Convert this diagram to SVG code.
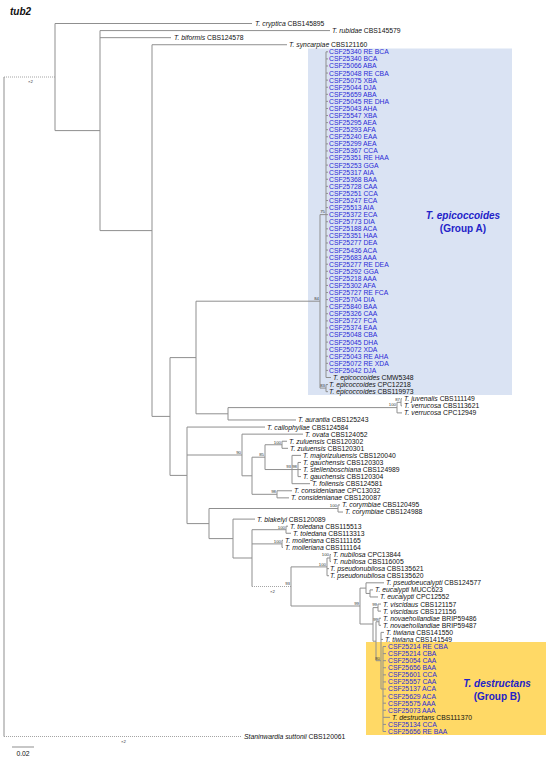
<svg xmlns="http://www.w3.org/2000/svg" width="550" height="762" viewBox="0 0 550 762">
<style>
text{font-family:"Liberation Sans",Arial,sans-serif}
.l{font-size:6.8px;fill:#111}
.b{font-size:6.8px;fill:#2a2ad6}
.i{font-style:italic}
.bs{font-size:4.3px;fill:#333;text-anchor:end}
.x2{font-size:4.3px;fill:#333}
.e{fill:none;stroke:#8f8f8f;stroke-width:1}
.d{fill:none;stroke:#9a9a9a;stroke-width:0.9;stroke-dasharray:1 1}
.g{font-size:10px;font-weight:bold;fill:#2222c8;text-anchor:middle}
</style>
<rect id="boxA" x="308" y="48.5" width="204" height="346.5" fill="#DAE3F3"/>
<rect id="boxB" x="366" y="642" width="180" height="93" fill="#FFD966"/>
<text x="10" y="15" style="font-size:10px;font-weight:bold;font-style:italic;fill:#111">tub2</text>
<g id="connectors">
<path class="d" d="M4,77H55M4,736.5H241M252,586.5H291"/>
<path class="e" d="M4,77V736.5
M55,23.5V130.6M55,23.5H252M55,130.6H100
M100,30.58V230.6M100,30.58H330M100,37.66H171M100,230.6H152
M152,44.74V416.4M152,44.74H287M152,416.4H170
M170,357.6V475.4M170,357.6H196M170,475.4H187
M196,301.2V413.8M196,301.2H320M196,413.8H228
M320,214.6V388.1M320,214.6H326M320,388.1H326
M326,51.82V377.5M326,377.5H331
M326,51.82H328M326,58.9H328M326,65.98H328M326,73.06H328M326,80.14H328M326,87.22H328M326,94.3H328M326,101.38H328M326,108.46H328M326,115.54H328M326,122.62H328M326,129.7H328M326,136.78H328M326,143.86H328M326,150.94H328M326,158.02H328M326,165.1H328M326,172.18H328M326,179.26H328M326,186.34H328M326,193.42H328M326,200.5H328M326,207.58H328M326,214.66H328M326,221.74H328M326,228.82H328M326,235.9H328M326,242.98H328M326,250.06H328M326,257.14H328M326,264.22H328M326,271.3H328M326,278.38H328M326,285.46H328M326,292.54H328M326,299.62H328M326,306.7H328M326,313.78H328M326,320.86H328M326,327.94H328M326,335.02H328M326,342.1H328M326,349.18H328M326,356.26H328M326,363.34H328M326,370.42H328
M326,384.58V391.66M326,384.58H328M326,391.66H328
M228,407.6V419.98M228,407.6H397M228,419.98H296
M397,402.3V412.9M397,402.3H401M397,412.9H402
M401,398.74V405.82M401,398.74H402M401,405.82H402
M187,427.06V523.6M187,427.06H265M187,455H242M187,523.6H209
M242,434.14V475.8M242,434.14H303M242,475.8H252
M252,457.2V494.3M252,457.2H265M252,494.3H277
M265,444.76V469.54M265,444.76H282M265,469.54H292
M282,441.22V448.3M282,441.22H287M282,448.3H288
M292,455.38V483.7M292,455.38H301M292,469.54H298M292,483.7H310
M298,462.46V476.62M298,462.46H301M298,469.54H301M298,476.62H301
M277,490.78V497.86M277,490.78H292M277,497.86H289
M209,508.5V538.6M209,508.5H338M209,538.6H233
M338,504.94V512.02M338,504.94H340M338,512.02H343
M233,519.1V558M233,519.1H255M233,558H252
M252,529.7V586.5M252,529.7H286M252,543.9H282
M286,526.18V533.26M286,526.18H288M286,533.26H291
M282,540.34V547.42M282,540.34H283M282,547.42H283
M291,566.9V606M291,566.9H327M291,606H360
M327,558V575.74M327,558H330M327,568.66H329M327,575.74H329
M330,554.5V561.58M330,554.5H331M330,561.58H331
M360,588.1V624M360,588.1H366M360,624H373
M366,582.82V593.44M366,582.82H384M366,593.44H370
M370,589.9V596.98M370,589.9H373M370,596.98H378
M373,607.6V641.2M373,607.6H378M373,641.2H376
M378,604.06V611.14M378,604.06H381M378,611.14H381
M376,621.76V660.7M376,621.76H379M376,660.7H381
M379,618.22V625.3M379,618.22H381M379,625.3H381
M381,632.38V689M381,632.38H384M381,639.46H383M381,689H383
M383,646.54V731.5M383,717.34H390
M383,646.54H386M383,653.62H386M383,660.7H386M383,667.78H386M383,674.86H386M383,681.94H386M383,689.02H386M383,696.1H386M383,703.18H386M383,710.26H386M383,724.42H386M383,731.5H386
M12,747H34"/>
</g>
<g id="support">
<text class="x2" x="28" y="82.5">×2</text>
<text class="x2" x="270" y="592.5">×2</text>
<text class="x2" x="121" y="742.5">×2</text>
<text class="bs" x="319" y="300">84</text>
<text class="bs" x="325" y="213.4">75</text>
<text class="bs" x="325" y="387">83</text>
<text class="bs" x="396" y="406.4">100</text>
<text class="bs" x="400" y="401">87</text>
<text class="bs" x="241" y="453.8">90</text>
<text class="bs" x="264" y="456">85</text>
<text class="bs" x="276" y="493.1">98</text>
<text class="bs" x="281" y="443.6">100</text>
<text class="bs" x="291" y="468.3">93</text>
<text class="bs" x="297" y="468.3">98</text>
<text class="bs" x="337" y="507.3">100</text>
<text class="bs" x="285" y="528.5">100</text>
<text class="bs" x="281" y="542.7">100</text>
<text class="bs" x="290" y="585.3">93</text>
<text class="bs" x="326" y="565.7">100</text>
<text class="bs" x="329" y="555.6">100</text>
<text class="bs" x="359" y="604.8">99</text>
<text class="bs" x="377" y="606.4">99</text>
<text class="bs" x="378" y="620.6">99</text>
<text class="bs" x="380" y="659.5">80</text>
</g>
<g id="outgroups">
<g id="cryptica"><text class="l" x="255" y="25.9"><tspan class="i">T. cryptica</tspan> CBS145895</text></g>
<g id="rubidae"><text class="l" x="332" y="33"><tspan class="i">T. rubidae</tspan> CBS145579</text></g>
<g id="biformis"><text class="l" x="174" y="40.1"><tspan class="i">T. biformis</tspan> CBS124578</text></g>
<g id="syncarpiae"><text class="l" x="289" y="47.1"><tspan class="i">T. syncarpiae</tspan> CBS121160</text></g>
</g>
<g id="groupA">
<g id="a1"><text class="b" x="329" y="54.2">CSF25340 RE BCA</text></g>
<g id="a2"><text class="b" x="329" y="61.3">CSF25340 BCA</text></g>
<g id="a3"><text class="b" x="329" y="68.4">CSF25066 ABA</text></g>
<g id="a4"><text class="b" x="329" y="75.5">CSF25048 RE CBA</text></g>
<g id="a5"><text class="b" x="329" y="82.5">CSF25075 XBA</text></g>
<g id="a6"><text class="b" x="329" y="89.6">CSF25044 DJA</text></g>
<g id="a7"><text class="b" x="329" y="96.7">CSF25659 ABA</text></g>
<g id="a8"><text class="b" x="329" y="103.8">CSF25045 RE DHA</text></g>
<g id="a9"><text class="b" x="329" y="110.9">CSF25043 AHA</text></g>
<g id="a10"><text class="b" x="329" y="117.9">CSF25547 XBA</text></g>
<g id="a11"><text class="b" x="329" y="125">CSF25295 AEA</text></g>
<g id="a12"><text class="b" x="329" y="132.1">CSF25293 AFA</text></g>
<g id="a13"><text class="b" x="329" y="139.2">CSF25240 EAA</text></g>
<g id="a14"><text class="b" x="329" y="146.3">CSF25299 AEA</text></g>
<g id="a15"><text class="b" x="329" y="153.3">CSF25367 CCA</text></g>
<g id="a16"><text class="b" x="329" y="160.4">CSF25351 RE HAA</text></g>
<g id="a17"><text class="b" x="329" y="167.5">CSF25253 GGA</text></g>
<g id="a18"><text class="b" x="329" y="174.6">CSF25317 AIA</text></g>
<g id="a19"><text class="b" x="329" y="181.7">CSF25368 BAA</text></g>
<g id="a20"><text class="b" x="329" y="188.7">CSF25728 CAA</text></g>
<g id="a21"><text class="b" x="329" y="195.8">CSF25251 CCA</text></g>
<g id="a22"><text class="b" x="329" y="202.9">CSF25247 ECA</text></g>
<g id="a23"><text class="b" x="329" y="210">CSF25513 AIA</text></g>
<g id="a24"><text class="b" x="329" y="217.1">CSF25372 ECA</text></g>
<g id="a25"><text class="b" x="329" y="224.1">CSF25773 DIA</text></g>
<g id="a26"><text class="b" x="329" y="231.2">CSF25188 ACA</text></g>
<g id="a27"><text class="b" x="329" y="238.3">CSF25351 HAA</text></g>
<g id="a28"><text class="b" x="329" y="245.4">CSF25277 DEA</text></g>
<g id="a29"><text class="b" x="329" y="252.5">CSF25436 ACA</text></g>
<g id="a30"><text class="b" x="329" y="259.5">CSF25683 AAA</text></g>
<g id="a31"><text class="b" x="329" y="266.6">CSF25277 RE DEA</text></g>
<g id="a32"><text class="b" x="329" y="273.7">CSF25292 GGA</text></g>
<g id="a33"><text class="b" x="329" y="280.8">CSF25218 AAA</text></g>
<g id="a34"><text class="b" x="329" y="287.9">CSF25302 AFA</text></g>
<g id="a35"><text class="b" x="329" y="294.9">CSF25727 RE FCA</text></g>
<g id="a36"><text class="b" x="329" y="302">CSF25704 DIA</text></g>
<g id="a37"><text class="b" x="329" y="309.1">CSF25840 BAA</text></g>
<g id="a38"><text class="b" x="329" y="316.2">CSF25326 CAA</text></g>
<g id="a39"><text class="b" x="329" y="323.3">CSF25727 FCA</text></g>
<g id="a40"><text class="b" x="329" y="330.3">CSF25374 EAA</text></g>
<g id="a41"><text class="b" x="329" y="337.4">CSF25048 CBA</text></g>
<g id="a42"><text class="b" x="329" y="344.5">CSF25045 DHA</text></g>
<g id="a43"><text class="b" x="329" y="351.6">CSF25072 XDA</text></g>
<g id="a44"><text class="b" x="329" y="358.7">CSF25043 RE AHA</text></g>
<g id="a45"><text class="b" x="329" y="365.7">CSF25072 RE XDA</text></g>
<g id="a46"><text class="b" x="329" y="372.8">CSF25042 DJA</text></g>
<g id="cmw5348"><text class="l" x="333" y="379.9"><tspan class="i">T. epicoccoides</tspan> CMW5348</text></g>
<g id="cpc12218"><text class="l" x="329" y="387"><tspan class="i">T. epicoccoides</tspan> CPC12218</text></g>
<g id="cbs119973"><text class="l" x="329" y="394.1"><tspan class="i">T. epicoccoides</tspan> CBS119973</text></g>
<g id="labelA"><text class="g" x="463" y="218.6" font-style="italic">T. epicoccoides</text><text class="g" x="463" y="231.9">(Group A)</text></g>
</g>
<g id="middle">
<g id="juvenalis"><text class="l" x="404" y="401.1"><tspan class="i">T. juvenalis</tspan> CBS111149</text></g>
<g id="verrucosa1"><text class="l" x="404" y="408.2"><tspan class="i">T. verrucosa</tspan> CBS113621</text></g>
<g id="verrucosa2"><text class="l" x="404" y="415.3"><tspan class="i">T. verrucosa</tspan> CPC12949</text></g>
<g id="aurantia"><text class="l" x="298" y="422.4"><tspan class="i">T. aurantia</tspan> CBS125243</text></g>
<g id="callophyllae"><text class="l" x="267" y="429.5"><tspan class="i">T. callophyllae</tspan> CBS124584</text></g>
<g id="ovata"><text class="l" x="305" y="436.5"><tspan class="i">T. ovata</tspan> CBS124052</text></g>
<g id="zuluensis1"><text class="l" x="289" y="443.6"><tspan class="i">T. zuluensis</tspan> CBS120302</text></g>
<g id="zuluensis2"><text class="l" x="290" y="450.7"><tspan class="i">T. zuluensis</tspan> CBS120301</text></g>
<g id="majorizuluensis"><text class="l" x="303" y="457.8"><tspan class="i">T. majorizuluensis</tspan> CBS120040</text></g>
<g id="gauchensis1"><text class="l" x="303" y="464.9"><tspan class="i">T. gauchensis</tspan> CBS120303</text></g>
<g id="stellenboschiana"><text class="l" x="303" y="471.9"><tspan class="i">T. stellenboschiana</tspan> CBS124989</text></g>
<g id="gauchensis2"><text class="l" x="303" y="479"><tspan class="i">T. gauchensis</tspan> CBS120304</text></g>
<g id="foliensis"><text class="l" x="312" y="486.1"><tspan class="i">T. foliensis</tspan> CBS124581</text></g>
<g id="considenianae1"><text class="l" x="294" y="493.2"><tspan class="i">T. considenianae</tspan> CPC13032</text></g>
<g id="considenianae2"><text class="l" x="291" y="500.3"><tspan class="i">T. considenianae</tspan> CBS120087</text></g>
<g id="corymbiae1"><text class="l" x="342" y="507.3"><tspan class="i">T. corymbiae</tspan> CBS120495</text></g>
<g id="corymbiae2"><text class="l" x="345" y="514.4"><tspan class="i">T. corymbiae</tspan> CBS124988</text></g>
<g id="blakelyi"><text class="l" x="257" y="521.5"><tspan class="i">T. blakelyi</tspan> CBS120089</text></g>
<g id="toledana1"><text class="l" x="290" y="528.6"><tspan class="i">T. toledana</tspan> CBS115513</text></g>
<g id="toledana2"><text class="l" x="293" y="535.7"><tspan class="i">T. toledana</tspan> CBS113313</text></g>
<g id="molleriana1"><text class="l" x="285" y="542.7"><tspan class="i">T. molleriana</tspan> CBS111165</text></g>
<g id="molleriana2"><text class="l" x="285" y="549.8"><tspan class="i">T. molleriana</tspan> CBS111164</text></g>
<g id="nubilosa1"><text class="l" x="333" y="556.9"><tspan class="i">T. nubilosa</tspan> CPC13844</text></g>
<g id="nubilosa2"><text class="l" x="333" y="564"><tspan class="i">T. nubilosa</tspan> CBS116005</text></g>
<g id="pseudonubilosa1"><text class="l" x="330" y="571.1"><tspan class="i">T. pseudonubilosa</tspan> CBS135621</text></g>
<g id="pseudonubilosa2"><text class="l" x="330" y="578.1"><tspan class="i">T. pseudonubilosa</tspan> CBS135620</text></g>
<g id="pseudoeucalypti"><text class="l" x="386" y="585.2"><tspan class="i">T. pseudoeucalypti</tspan> CBS124577</text></g>
<g id="eucalypti1"><text class="l" x="375" y="592.3"><tspan class="i">T. eucalypti</tspan> MUCC623</text></g>
<g id="eucalypti2"><text class="l" x="380" y="599.4"><tspan class="i">T. eucalypti</tspan> CPC12552</text></g>
<g id="viscidaus1"><text class="l" x="383" y="606.5"><tspan class="i">T. viscidaus</tspan> CBS121157</text></g>
<g id="viscidaus2"><text class="l" x="383" y="613.5"><tspan class="i">T. viscidaus</tspan> CBS121156</text></g>
<g id="novaehollandiae1"><text class="l" x="383" y="620.6"><tspan class="i">T. novaehollandiae</tspan> BRIP59486</text></g>
<g id="novaehollandiae2"><text class="l" x="383" y="627.7"><tspan class="i">T. novaehollandiae</tspan> BRIP59487</text></g>
<g id="tiwiana1"><text class="l" x="386" y="634.8"><tspan class="i">T. tiwiana</tspan> CBS141550</text></g>
<g id="tiwiana2"><text class="l" x="385" y="641.9"><tspan class="i">T. tiwiana</tspan> CBS141549</text></g>
</g>
<g id="groupB">
<g id="b1"><text class="b" x="388" y="648.9">CSF25214 RE CBA</text></g>
<g id="b2"><text class="b" x="388" y="656">CSF25214 CBA</text></g>
<g id="b3"><text class="b" x="388" y="663.1">CSF25054 CAA</text></g>
<g id="b4"><text class="b" x="388" y="670.2">CSF25656 BAA</text></g>
<g id="b5"><text class="b" x="388" y="677.3">CSF25601 CCA</text></g>
<g id="b6"><text class="b" x="388" y="684.3">CSF25557 CAA</text></g>
<g id="b7"><text class="b" x="388" y="691.4">CSF25137 ACA</text></g>
<g id="b8"><text class="b" x="388" y="698.5">CSF25629 ACA</text></g>
<g id="b9"><text class="b" x="388" y="705.6">CSF25575 AAA</text></g>
<g id="b10"><text class="b" x="388" y="712.7">CSF25073 AAA</text></g>
<g id="destructans"><text class="l" x="392" y="719.7"><tspan class="i">T. destructans</tspan> CBS111370</text></g>
<g id="b11"><text class="b" x="388" y="726.8">CSF25134 CCA</text></g>
<g id="b12"><text class="b" x="388" y="733.9">CSF25656 RE BAA</text></g>
<g id="labelB"><text class="g" x="497" y="686.8" font-style="italic">T. destructans</text><text class="g" x="497" y="699.8">(Group B)</text></g>
</g>
<g id="staninwardia"><text class="l" x="244" y="739"><tspan class="i">Staninwardia suttonii</tspan> CBS120061</text></g>
<g id="scale"><text class="l" x="23" y="755.5" text-anchor="middle">0.02</text></g>
</svg>
